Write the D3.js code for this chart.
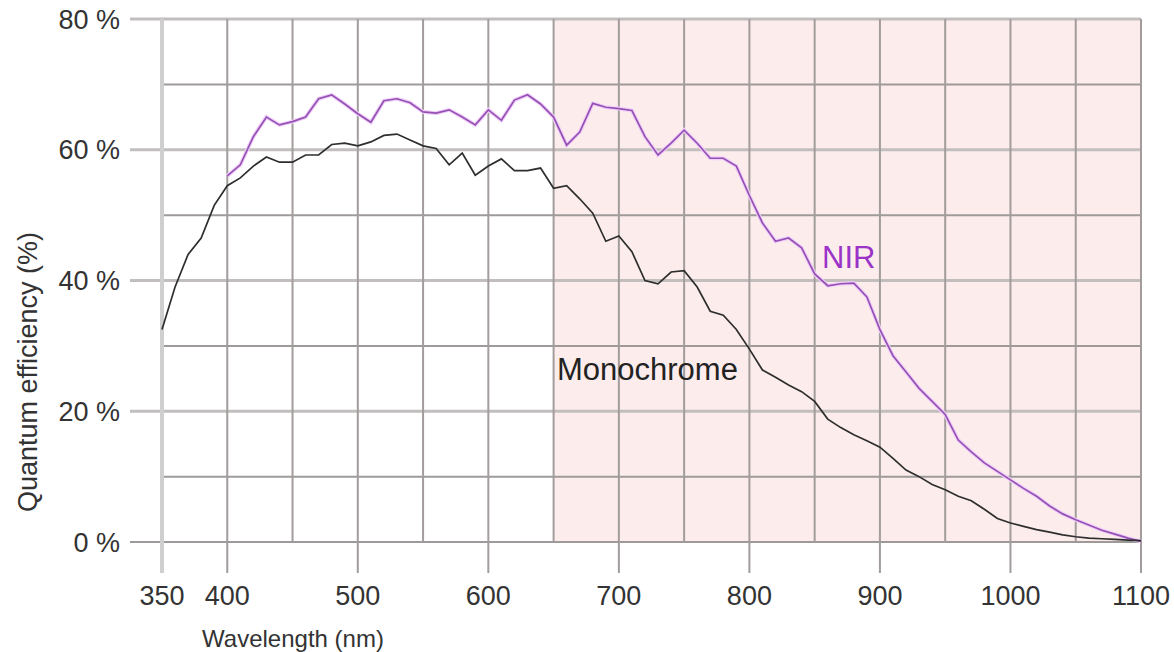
<!DOCTYPE html>
<html>
<head>
<meta charset="utf-8">
<script src="https://cdn.jsdelivr.net/npm/d3@7"></script>
<style>
  body { margin: 0; background: #fff; }
  svg { display: block; font-family: "Liberation Sans", Arial, sans-serif; }
</style>
</head>
<body>
<svg id="chart" width="1174" height="652"></svg>
<script>
/* wavelengths (nm) sampled along each curve */
var monoNm = [350, 360, 370, 380, 390, 400, 410, 420, 430, 440, 450, 460, 470, 480, 490,
	500, 510, 520, 530, 540, 550, 560, 570, 580, 590, 600, 610, 620, 630, 640,
	650, 660, 670, 680, 690, 700, 710, 720, 730, 740, 750, 760, 770, 780, 790,
	800, 810, 820, 830, 840, 850, 860, 870, 880, 890, 900, 910, 920, 930, 940,
	950, 960, 970, 980, 990, 1000, 1010, 1020, 1030, 1040, 1050, 1060, 1070, 1080, 1090, 1100];

/* quantum efficiency (%) of the monochrome sensor */
var monoQE = [32.5, 39, 44, 46.5, 51.5, 54.5, 55.7, 57.5, 58.9, 58.1, 58.1, 59.2, 59.2, 60.8, 61,
	60.6, 61.2, 62.2, 62.4, 61.5, 60.6, 60.2, 57.7, 59.5, 56.1, 57.5, 58.6, 56.8, 56.8, 57.2,
	54.1, 54.5, 52.5, 50.3, 46, 46.8, 44.4, 40, 39.5, 41.3, 41.5, 39, 35.3, 34.7, 32.5,
	29.5, 26.3, 25.2, 24, 23, 21.5, 18.8, 17.5, 16.4, 15.5, 14.5, 12.8, 11, 10, 8.8,
	8, 7, 6.3, 5, 3.6, 2.9, 2.4, 1.9, 1.5, 1.1, 0.8, 0.6, 0.5, 0.4, 0.3, 0.2];

var nirNm = [400, 410, 420, 430, 440, 450, 460, 470, 480, 490,
	500, 510, 520, 530, 540, 550, 560, 570, 580, 590, 600, 610, 620, 630, 640,
	650, 660, 670, 680, 690, 700, 710, 720, 730, 740, 750, 760, 770, 780, 790,
	800, 810, 820, 830, 840, 850, 860, 870, 880, 890, 900, 910, 920, 930, 940,
	950, 960, 970, 980, 990, 1000, 1010, 1020, 1030, 1040, 1050, 1060, 1070, 1080, 1090, 1100];

/* quantum efficiency (%) of the NIR sensor */
var nirQE = [56, 57.7, 62, 65, 63.8, 64.3, 65, 67.8, 68.4, 67,
	65.5, 64.2, 67.5, 67.8, 67.2, 65.8, 65.6, 66.1, 65, 63.8, 66.1, 64.5, 67.6, 68.4, 67,
	65, 60.7, 62.7, 67.1, 66.5, 66.3, 66, 62, 59.2, 61, 63, 61, 58.7, 58.7, 57.5,
	53, 48.8, 46, 46.5, 45, 41, 39.2, 39.5, 39.6, 37.5, 32.5, 28.5, 26, 23.5, 21.5,
	19.5, 15.6, 13.8, 12.1, 10.8, 9.5, 8.2, 7, 5.5, 4.3, 3.4, 2.6, 1.8, 1.2, 0.6, 0.1];

/* ticks and the shaded near-infrared band */
var xTickLabels = [350, 400, 500, 600, 700, 800, 900, 1000, 1100];
var xGrid = [350, 400, 450, 500, 550, 600, 650, 700, 750, 800, 850, 900, 950, 1000, 1050, 1100];
var yTickLabels = [0, 20, 40, 60, 80];
var yGrid = [0, 10, 20, 30, 40, 50, 60, 70, 80];
var nirBand = [650, 1100];

var svg = d3.select("#chart");

/* scales: plot box runs 162..1141 across, 542..19 down */
var x = d3.scaleLinear().domain([350, 1100]).range([162, 1141]);
var y = d3.scaleLinear().domain([0, 80]).range([542, 19]);

/* shaded NIR region */
svg.append("rect")
	.attr("x", x(nirBand[0]))
	.attr("y", y(80))
	.attr("width", x(nirBand[1]) - x(nirBand[0]))
	.attr("height", y(0) - y(80))
	.style("fill", "#fcedec");

/* horizontal grid, labelled lines reach out to the tick labels */
svg.append("g").selectAll("line")
	.data(yGrid)
	.enter().append("line")
	.attr("x1", function(d) { return yTickLabels.indexOf(d) >= 0 ? 130 : x(350); })
	.attr("x2", x(1100))
	.attr("y1", function(d) { return y(d); })
	.attr("y2", function(d) { return y(d); })
	.style("stroke", function(d) { return (d == 0 || yTickLabels.indexOf(d) < 0) ? "#9e9a9a" : "#c2bebe"; })
	.style("stroke-width", function(d) { return (d == 0 || yTickLabels.indexOf(d) < 0) ? 2 : 3; });

/* vertical grid, labelled lines drop down as ticks */
svg.append("g").selectAll("line")
	.data(xGrid)
	.enter().append("line")
	.attr("x1", function(d) { return x(d); })
	.attr("x2", function(d) { return x(d); })
	.attr("y1", y(80))
	.attr("y2", function(d) { return xTickLabels.indexOf(d) >= 0 ? 573 : y(0); })
	.style("stroke", function(d) { return d == 350 ? "#cfcfcf" : "#a29c9c"; })
	.style("stroke-width", function(d) { return d == 350 ? 4 : 2; });

/* tick labels */
svg.append("g").selectAll("text")
	.data(yTickLabels)
	.enter().append("text")
	.attr("x", 120)
	.attr("y", function(d) { return y(d); })
	.attr("dy", "0.36em")
	.attr("text-anchor", "end")
	.style("font-size", "27px")
	.style("fill", "#333")
	.text(function(d) { return d + " %"; });

svg.append("g").selectAll("text")
	.data(xTickLabels)
	.enter().append("text")
	.attr("x", function(d) { return x(d); })
	.attr("y", 605)
	.attr("text-anchor", "middle")
	.style("font-size", "27px")
	.style("fill", "#333")
	.text(function(d) { return d; });

/* axis titles */
svg.append("text")
	.attr("x", 293)
	.attr("y", 647)
	.attr("text-anchor", "middle")
	.style("font-size", "24px")
	.style("fill", "#333")
	.text("Wavelength (nm)");

svg.append("text")
	.attr("transform", "translate(37,372) rotate(-90)")
	.attr("text-anchor", "middle")
	.style("font-size", "27px")
	.style("fill", "#333")
	.text("Quantum efficiency (%)");

/* the two curves */
var line = d3.line()
	.x(function(d) { return x(d[0]); })
	.y(function(d) { return y(d[1]); });

var nirPts = nirNm.map(function(d, i) { return [d, nirQE[i]]; });
var monoPts = monoNm.map(function(d, i) { return [d, monoQE[i]]; });

svg.append("path")
	.attr("d", line(nirPts))
	.style("fill", "none")
	.style("stroke", "#f0d0f8")
	.style("stroke-width", 4);

svg.append("path")
	.attr("d", line(nirPts))
	.style("fill", "none")
	.style("stroke", "#9550b5")
	.style("stroke-width", 1.7);

svg.append("path")
	.attr("d", line(monoPts))
	.style("fill", "none")
	.style("stroke", "#2e2e2e")
	.style("stroke-width", 1.7);

/* curve labels */
svg.append("text")
	.attr("x", 822)
	.attr("y", 268)
	.style("font-size", "31px")
	.style("fill", "#9b33c9")
	.text("NIR");

svg.append("text")
	.attr("x", 557)
	.attr("y", 380)
	.style("font-size", "31px")
	.style("fill", "#222")
	.text("Monochrome");
</script>
</body>
</html>
